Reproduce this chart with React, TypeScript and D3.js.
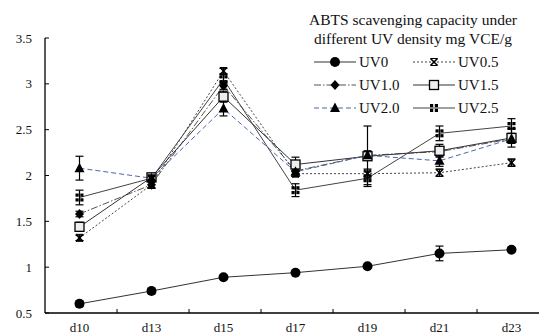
import React from 'react';
import * as d3 from 'd3';

const days = ['d10', 'd13', 'd15', 'd17', 'd19', 'd21', 'd23'];
const yTicks = [0.5, 1, 1.5, 2, 2.5, 3, 3.5];

const uv0 = [0.6, 0.74, 0.89, 0.94, 1.01, 1.15, 1.19];
const uv0Err = [0.03, 0.03, 0.02, 0.01, 0.02, 0.08, 0.02];
const uv05 = [1.32, 1.9, 3.14, 2.02, 2.02, 2.03, 2.14];
const uv05Err = [0.03, 0.04, 0.03, 0.03, 0.05, 0.04, 0.04];
const uv10 = [1.58, 1.9, 2.98, 2.05, 2.22, 2.26, 2.4];
const uv10Err = [0.03, 0.04, 0.04, 0.04, 0.05, 0.05, 0.05];
const uv15 = [1.44, 1.98, 2.86, 2.12, 2.21, 2.27, 2.41];
const uv15Err = [0.05, 0.03, 0.06, 0.08, 0.33, 0.07, 0.1];
const uv20 = [2.08, 1.97, 2.73, 2.04, 2.22, 2.16, 2.4];
const uv20Err = [0.13, 0.03, 0.08, 0.05, 0.04, 0.06, 0.04];
const uv25 = [1.76, 1.97, 3.05, 1.84, 1.97, 2.46, 2.54];
const uv25Err = [0.08, 0.03, 0.05, 0.07, 0.07, 0.08, 0.08];

const seriesNames = ['UV0', 'UV0.5', 'UV1.0', 'UV1.5', 'UV2.0', 'UV2.5'];
const titleLines = ['ABTS scavenging capacity under', 'different UV density mg VCE/g'];

type Series = { name: string; values: number[]; errs: number[]; color: string; dash: string; marker: string };

const series: Series[] = [
  { name: seriesNames[0], values: uv0, errs: uv0Err, color: '#333', dash: '', marker: 'circle' },
  { name: seriesNames[1], values: uv05, errs: uv05Err, color: '#444', dash: '2,2', marker: 'x' },
  { name: seriesNames[2], values: uv10, errs: uv10Err, color: '#555', dash: '7,2,1.5,2', marker: 'diamond' },
  { name: seriesNames[3], values: uv15, errs: uv15Err, color: '#333', dash: '', marker: 'square' },
  { name: seriesNames[4], values: uv20, errs: uv20Err, color: '#4a68a8', dash: '5,3', marker: 'triangle' },
  { name: seriesNames[5], values: uv25, errs: uv25Err, color: '#444', dash: '', marker: 'quad' },
];

const FONT = "'Liberation Serif', 'DejaVu Serif', serif";
const textStyle = { fontFamily: FONT };

function Marker({ type, x, y }: { type: string; x: number; y: number }) {
  switch (type) {
    case 'circle':
      return <circle cx={x} cy={y} r={5} fill="#000" />;
    case 'x':
      return (
        <g stroke="#000" strokeWidth={1.6}>
          <line x1={x - 3.5} y1={y - 3.5} x2={x + 3.5} y2={y + 3.5} />
          <line x1={x - 3.5} y1={y + 3.5} x2={x + 3.5} y2={y - 3.5} />
          <line x1={x - 3.5} y1={y - 3.5} x2={x + 3.5} y2={y - 3.5} strokeWidth={1} />
          <line x1={x - 3.5} y1={y + 3.5} x2={x + 3.5} y2={y + 3.5} strokeWidth={1} />
        </g>
      );
    case 'diamond':
      return <path d={`M${x},${y - 5}L${x + 4.5},${y}L${x},${y + 5}L${x - 4.5},${y}Z`} fill="#000" />;
    case 'square':
      return <rect x={x - 4.5} y={y - 4.5} width={9} height={9} fill="#eee" stroke="#000" strokeWidth={1.3} />;
    case 'triangle':
      return <path d={`M${x},${y - 5.5}L${x + 5},${y + 4}L${x - 5},${y + 4}Z`} fill="#000" />;
    case 'quad':
      return (
        <g fill="#000">
          <rect x={x - 4} y={y - 4} width={3.2} height={3.2} />
          <rect x={x + 0.8} y={y - 4} width={3.2} height={3.2} />
          <rect x={x - 4} y={y + 0.8} width={3.2} height={3.2} />
          <rect x={x + 0.8} y={y + 0.8} width={3.2} height={3.2} />
        </g>
      );
    default:
      return null;
  }
}

export default function App() {
  const W = 539;
  const H = 335;
  const left = 45;
  const right = 549;
  const x = d3.scaleBand<string>().domain(days).range([left, right]);
  const y = d3.scaleLinear().domain([0.5, 3.5]).range([313, 38]);
  const cx = (d: string) => (x(d) as number) + x.bandwidth() / 2 - 1.5;

  const line = d3
    .line<number>()
    .x((_, i) => cx(days[i]))
    .y((v) => y(v));

  const legendRows = [
    [0, 1],
    [2, 3],
    [4, 5],
  ];
  const legendCols = [314, 413];
  const legendY = [62, 85, 108];

  return (
    <svg width={W} height={H} style={{ position: 'absolute', left: 0, top: 0, background: '#fff', fontFamily: FONT }}>
      <rect width={W} height={H} fill="#fff" />
      <line x1={left} y1={y(3.5)} x2={left} y2={y(0.5)} stroke="#000" strokeWidth={1.3} />
      <line x1={left} y1={y(0.5)} x2={W} y2={y(0.5)} stroke="#000" strokeWidth={1.3} />
      {yTicks.map((t) => (
        <g key={t}>
          <line x1={left} x2={left + 4} y1={y(t)} y2={y(t)} stroke="#000" />
          <text x={32} y={y(t)} dy="0.35em" textAnchor="end" style={textStyle} fontSize={13} fill="#111">
            {t}
          </text>
        </g>
      ))}
      {days.slice(1).map((d) => (
        <line key={d} x1={x(d)} x2={x(d)} y1={y(0.5)} y2={y(0.5) - 4} stroke="#000" />
      ))}
      {days.map((d) => (
        <text key={d} x={cx(d)} y={332} textAnchor="middle" style={textStyle} fontSize={13} fill="#111">
          {d}
        </text>
      ))}
      {series.map((s) => (
        <path
          key={s.name}
          d={line(s.values) as string}
          fill="none"
          stroke={s.color}
          strokeWidth={1}
          strokeDasharray={s.dash}
        />
      ))}
      {series.map((s) => (
        <g key={s.name + 'e'} stroke="#000" strokeWidth={1.2}>
          {s.values.map((v, i) => {
            const px = cx(days[i]);
            const e = s.errs[i];
            return (
              <g key={i}>
                <line x1={px} x2={px} y1={y(v + e)} y2={y(v - e)} />
                <line x1={px - 4} x2={px + 4} y1={y(v + e)} y2={y(v + e)} />
                <line x1={px - 4} x2={px + 4} y1={y(v - e)} y2={y(v - e)} />
              </g>
            );
          })}
        </g>
      ))}
      {series.map((s) => (
        <g key={s.name + 'm'}>
          {s.values.map((v, i) => (
            <Marker key={i} type={s.marker} x={cx(days[i])} y={y(v)} />
          ))}
        </g>
      ))}
      {titleLines.map((t, i) => (
        <text key={t} x={413} y={25 + i * 19} textAnchor="middle" style={textStyle} fontSize={15.5} fill="#111">
          {t}
        </text>
      ))}
      {legendRows.map((row, ri) =>
        row.map((si, ci) => {
          const s = series[si];
          const lx = legendCols[ci];
          const ly = legendY[ri];
          return (
            <g key={s.name + 'l'}>
              <line x1={lx} x2={lx + 42} y1={ly} y2={ly} stroke={s.color} strokeWidth={1.2} strokeDasharray={s.dash} />
              <Marker type={s.marker} x={lx + 21} y={ly} />
              <text x={lx + 45} y={ly} dy="0.35em" style={textStyle} fontSize={15} fill="#111">
                {s.name}
              </text>
            </g>
          );
        })
      )}
    </svg>
  );
}
